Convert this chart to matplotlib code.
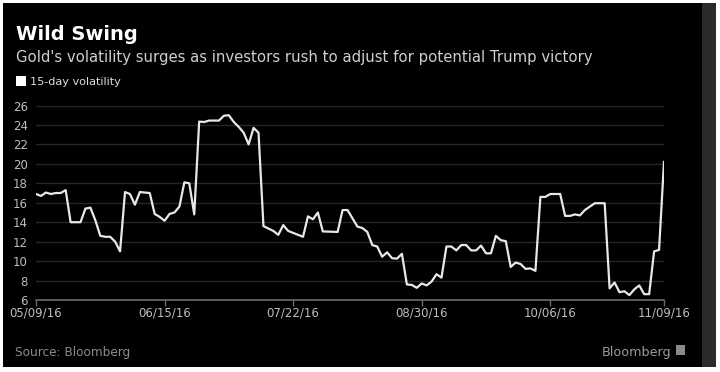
import matplotlib.pyplot as plt
from matplotlib.patches import Rectangle

# 15-day gold volatility (x = trading day since 05/09/16)
day = [0, 1, 2, 3, 4, 5, 6, 7, 9, 10, 11, 12, 13, 14, 15, 16, 17, 18, 19, 20,
       21, 23, 24, 25, 26, 27, 28, 29, 30, 31, 32, 33, 34, 35, 37, 38, 39, 40,
       41, 42, 43, 44, 45, 46, 48, 49, 50, 51, 52, 54, 55, 56, 57, 58, 61, 62,
       63, 64, 65, 66, 67, 68, 69, 70, 71, 72, 73, 74, 75, 76, 77, 78, 79, 80,
       81, 82, 83, 84, 85, 86, 87, 88, 89, 90, 91, 92, 93, 94, 95, 96, 97, 98,
       99, 100, 101, 102, 103, 104, 106, 107, 108, 109, 110, 111, 113, 115,
       116, 117, 118, 119, 120, 121, 122, 123, 124, 125, 126, 127]
vol = [16.9, 16.7, 17.05, 16.9, 17.0, 17.0, 17.3, 14.0, 14.0, 15.4, 15.5, 14.2,
       12.6, 12.5, 12.5, 12.0, 11.0, 17.1, 16.9, 15.8, 17.1, 17.0, 14.85, 14.55,
       14.15, 14.85, 15.0, 15.6, 18.1, 18.0, 14.8, 24.35, 24.3, 24.45, 24.45,
       24.95, 25.0, 24.3, 23.8, 23.2, 22.0, 23.7, 23.2, 13.6, 13.1, 12.7, 13.7,
       13.1, 12.9, 12.5, 14.6, 14.3, 15.0, 13.05, 13.0, 15.25, 15.25, 14.4,
       13.55, 13.4, 13.0, 11.65, 11.5, 10.45, 10.9, 10.3, 10.25, 10.75, 7.6,
       7.55, 7.25, 7.7, 7.5, 7.9, 8.65, 8.3, 11.5, 11.5, 11.1, 11.65, 11.65,
       11.1, 11.1, 11.6, 10.8, 10.8, 12.6, 12.15, 12.05, 9.4, 9.85, 9.7, 9.2,
       9.25, 9.0, 16.6, 16.6, 16.9, 16.9, 14.65, 14.65, 14.8, 14.7, 15.25,
       15.95, 15.95, 7.2, 7.8, 6.8, 6.9, 6.5, 7.1, 7.5, 6.6, 6.6, 11.0, 11.15,
       20.2]

tick_days = [0, 26, 52, 78, 104, 127]
tick_labels = ['05/09/16', '06/15/16', '07/22/16', '08/30/16', '10/06/16', '11/09/16']
y_ticks = [6, 8, 10, 12, 14, 16, 18, 20, 22, 24, 26]

W, H = 720, 372
fig = plt.figure(figsize=(W / 100, H / 100), dpi=100, facecolor='white')

# black panel with the grey strip on the right, like the screenshot
fig.patches.append(Rectangle((3 / W, 5 / H), 699 / W, 364 / H, transform=fig.transFigure,
                             facecolor='black', edgecolor='none', zorder=-10))
fig.patches.append(Rectangle((702 / W, 5 / H), 14 / W, 364 / H, transform=fig.transFigure,
                             facecolor='#2b2b2b', edgecolor='none', zorder=-10))

ax = fig.add_axes([36 / W, (H - 300) / H, 628 / W, 194.5 / H])
ax.set_facecolor('black')
ax.plot(day, vol, color='#e8e8e8', lw=1.6, solid_joinstyle='round')

ax.set_xlim(0, 127)
ax.set_ylim(6, 26)
ax.set_yticks(y_ticks)
ax.set_xticks(tick_days)
ax.set_xticklabels(tick_labels)
ax.grid(axis='y', color='#262626', lw=1)
ax.set_axisbelow(True)

for s in ['top', 'right', 'left']:
    ax.spines[s].set_visible(False)
ax.spines['bottom'].set_color('#6a6a6a')
ax.spines['bottom'].set_linewidth(1.2)
ax.tick_params(axis='x', colors='#6a6a6a', length=4, width=1, labelcolor='#bdbdbd',
               labelsize=8.5, pad=1)
ax.tick_params(axis='y', length=0, labelcolor='#bdbdbd', labelsize=8.5, pad=6)

# titles and legend
fig.text(16 / W, 1 - 40 / H, 'Wild Swing', color='white', fontsize=14, fontweight='bold')
fig.text(16 / W, 1 - 62 / H,
         "Gold's volatility surges as investors rush to adjust for potential Trump victory",
         color='#cfcfcf', fontsize=10.7)
fig.patches.append(Rectangle((16 / W, 1 - 86 / H), 10 / W, 10 / H, transform=fig.transFigure,
                             facecolor='white', edgecolor='none'))
fig.text(30 / W, 1 - 85 / H, '15-day volatility', color='#dcdcdc', fontsize=8.1)

# footer
fig.text(15 / W, 1 - 356 / H, 'Source: Bloomberg', color='#8a8a8a', fontsize=8.7)
fig.text(671 / W, 1 - 356 / H, 'Bloomberg', color='#9a9a9a', fontsize=9.2, ha='right')
fig.patches.append(Rectangle((676 / W, 1 - 355 / H), 9 / W, 10 / H, transform=fig.transFigure,
                             facecolor='#8a8a8a', edgecolor='none'))

fig.savefig('out.png', dpi=100, facecolor=fig.get_facecolor())
